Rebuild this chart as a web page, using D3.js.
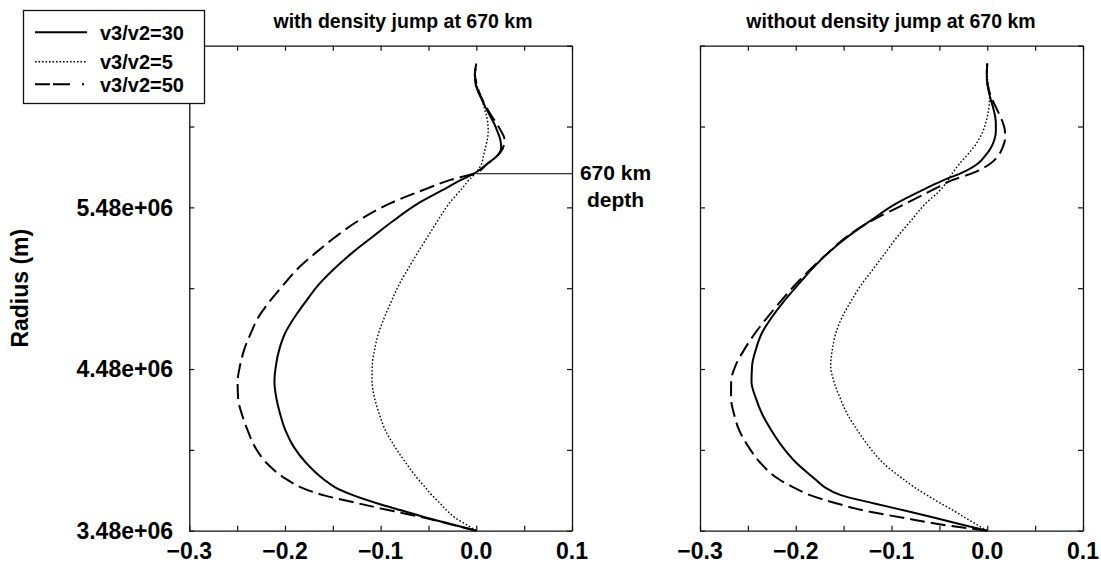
<!DOCTYPE html>
<html><head><meta charset="utf-8">
<script src="https://cdn.jsdelivr.net/npm/d3@7"></script>
<style>
html,body{margin:0;padding:0;background:#fff;}
svg{display:block;font-family:"Liberation Sans",Arial,Helvetica,sans-serif;font-weight:bold;}
</style></head><body>
<svg id="chart" width="1101" height="565"></svg>
<script>
// ---------------- data ----------------
const radius = [3.48e6,3.52e6,3.56e6,3.60e6,3.65e6,3.70e6,3.75e6,3.80e6,3.90e6,4.00e6,
  4.10e6,4.20e6,4.30e6,4.40e6,4.50e6,4.60e6,4.70e6,4.80e6,4.90e6,5.00e6,
  5.10e6,5.20e6,5.30e6,5.40e6,5.50e6,5.60e6,5.65e6,5.69e6,5.75e6,5.80e6,
  5.85e6,5.90e6,5.95e6,6.00e6,6.05e6,6.10e6,6.15e6,6.20e6,6.25e6,6.30e6,6.37e6];

// panel 1: with density jump at 670 km
const withJump30 = [0,-0.026,-0.052,-0.075,-0.104,-0.129,-0.148,-0.160,-0.178,-0.191,
  -0.1995,-0.205,-0.209,-0.211,-0.2095,-0.206,-0.200,-0.190,-0.178,-0.165,
  -0.1485,-0.1295,-0.108,-0.086,-0.062,-0.031,-0.016,-0.002,0.0115,0.022,
  0.026,0.025,0.022,0.0185,0.014,0.0095,0.0055,0.0015,-0.001,-0.0015,0];
const withJump5 = [0,-0.011,-0.022,-0.030,-0.038,-0.0465,-0.0536,-0.061,-0.0737,-0.0852,
  -0.095,-0.1013,-0.1063,-0.109,-0.1088,-0.1063,-0.1023,-0.096,-0.0887,-0.081,
  -0.0713,-0.0613,-0.0507,-0.0401,-0.029,-0.0145,-0.0075,-0.001,0.0055,0.0075,
  0.0095,0.0115,0.0124,0.012,0.0105,0.008,0.0055,0.0025,0,-0.001,0];
const withJump50 = [0,-0.027,-0.054,-0.086,-0.124,-0.160,-0.184,-0.199,-0.2195,-0.2315,
  -0.239,-0.245,-0.249,-0.2495,-0.247,-0.2426,-0.2358,-0.2278,-0.2158,-0.2017,
  -0.1868,-0.1677,-0.1467,-0.1226,-0.0919,-0.050,-0.027,-0.002,0.0115,0.022,
  0.028,0.0295,0.026,0.021,0.0155,0.0105,0.006,0.0025,0,-0.0015,0];

// panel 2: without density jump at 670 km
const withoutJump30 = [0,-0.028,-0.055,-0.083,-0.119,-0.153,-0.170,-0.180,-0.1995,-0.214,
  -0.2254,-0.235,-0.2417,-0.2462,-0.2456,-0.2417,-0.2356,-0.2250,-0.2122,-0.1977,
  -0.1829,-0.1659,-0.1453,-0.1214,-0.0962,-0.063,-0.045,-0.028,-0.010,-0.002,
  0.004,0.0075,0.009,0.009,0.008,0.006,0.0035,0.0015,0,-0.0005,0];
const withoutJump5 = [0,-0.0115,-0.023,-0.034,-0.049,-0.063,-0.0765,-0.088,-0.109,-0.1235,
  -0.1355,-0.146,-0.1536,-0.160,-0.1635,-0.1618,-0.1582,-0.1517,-0.1423,-0.1317,
  -0.1189,-0.1063,-0.0937,-0.0794,-0.065,-0.047,-0.041,-0.0365,-0.029,-0.0215,
  -0.0143,-0.0088,-0.0045,-0.0018,0.0004,0.0017,0.0024,0.002,0.0008,-0.0003,0];
const withoutJump50 = [0,-0.050,-0.088,-0.125,-0.158,-0.185,-0.203,-0.218,-0.237,-0.2495,
  -0.259,-0.2644,-0.2676,-0.2675,-0.263,-0.2538,-0.2427,-0.2296,-0.2156,-0.2008,
  -0.1841,-0.1660,-0.1466,-0.120,-0.0863,-0.053,-0.036,-0.016,0.003,0.0115,
  0.016,0.0185,0.0185,0.0165,0.013,0.009,0.005,0.002,0,-0.0005,0];

const seriesNames = ["v3/v2=30","v3/v2=5","v3/v2=50"];
const panelTitles = ["with density jump at 670 km","without density jump at 670 km"];
const xDomain = [-0.3, 0.1];
const yDomain = [3.48e6, 6.48e6];
const xTickValues = [-0.3,-0.25,-0.2,-0.15,-0.1,-0.05,0,0.05,0.1];
const xLabelValues = [-0.3,-0.2,-0.1,0.0,0.1];
const xLabelTexts = ["\u22120.3","\u22120.2","\u22120.1","0.0","0.1"];
const yTickValues = [3.48e6,3.98e6,4.48e6,4.98e6,5.48e6,5.98e6,6.48e6];
const yLabelValues = [3.48e6,4.48e6,5.48e6];
const yLabelTexts = ["3.48e+06","4.48e+06","5.48e+06"];
const yAxisTitle = "Radius (m)";
const depthLineRadius = 5.688e6;
const depthLabel = ["670 km","depth"];

// ---------------- drawing ----------------
const svg = d3.select("#chart");
const styles = [
  {w:2, dash:null},
  {w:1.4, dash:"1.6,2"},
  {w:2, dash:"15,6"}
];
const legendDash = [null, "1.6,1.9", "15,3,17,12,2,40"];

const yScale = d3.scaleLinear().domain(yDomain).range([530.7, 45.7]);
const panels = [
  {x0:189.3, x1:572, series:[withJump30, withJump5, withJump50], title:panelTitles[0], titleX:403, labels:true},
  {x0:700, x1:1083, series:[withoutJump30, withoutJump5, withoutJump50], title:panelTitles[1], titleX:891, labels:false}
];

const frameColor = "#111";
const tickLen = 5;

panels.forEach((p, pi) => {
  const xScale = d3.scaleLinear().domain(xDomain).range([p.x0, p.x1]);
  p.xScale = xScale;
  const g = svg.append("g");
  const yTop = yScale(yDomain[1]), yBot = yScale(yDomain[0]);

  const bottom = d3.axisBottom(xScale).tickValues(xTickValues).tickSizeInner(-tickLen).tickSizeOuter(0).tickFormat("");
  const top = d3.axisTop(xScale).tickValues(xTickValues).tickSizeInner(-tickLen).tickSizeOuter(0).tickFormat("");
  const left = d3.axisLeft(yScale).tickValues(yTickValues).tickSizeInner(-tickLen).tickSizeOuter(0).tickFormat("");
  const right = d3.axisRight(yScale).tickValues(yTickValues).tickSizeInner(-tickLen).tickSizeOuter(0).tickFormat("");
  [[bottom,`translate(0,${yBot})`],[top,`translate(0,${yTop})`],[left,`translate(${p.x0},0)`],[right,`translate(${p.x1},0)`]].forEach(([ax,tr]) => {
    const a = g.append("g").attr("transform", tr).call(ax);
    a.select(".domain").attr("stroke", frameColor).attr("stroke-width", 1.3);
    a.selectAll(".tick line").attr("stroke", frameColor).attr("stroke-width", 1.2);
  });

  g.selectAll("text.xl").data(xLabelValues).join("text")
    .attr("x", d => xScale(d)).attr("y", 559)
    .attr("text-anchor", "middle").attr("font-size", 23).attr("fill", "#000")
    .text((d,i) => xLabelTexts[i]);

  if (p.labels) {
    g.selectAll("text.yl").data(yLabelValues).join("text")
      .attr("x", 173).attr("y", d => yScale(d)).attr("dy", "0.36em")
      .attr("text-anchor", "end").attr("font-size", 23).attr("fill", "#000")
      .text((d,i) => yLabelTexts[i]);
  }

  g.append("text").attr("x", p.titleX).attr("y", 28).attr("text-anchor", "middle")
    .attr("font-size", 19.5).attr("fill", "#000").text(p.title);

  const line = d3.line().x(d => xScale(d[0])).y(d => yScale(d[1])).curve(d3.curveMonotoneY);
  p.series.forEach((vals, si) => {
    const pts = vals.map((v, i) => [v, radius[i]]);
    g.append("path").attr("d", line(pts)).attr("fill", "none")
      .attr("stroke", "#000").attr("stroke-width", styles[si].w)
      .attr("stroke-linejoin", "round")
      .attr("stroke-dasharray", styles[si].dash);
  });
});

// 670 km annotation
const xs0 = panels[0].xScale;
svg.append("line").attr("x1", xs0(0)).attr("x2", xs0(xDomain[1]))
  .attr("y1", yScale(depthLineRadius)).attr("y2", yScale(depthLineRadius))
  .attr("stroke", "#000").attr("stroke-width", 1);
svg.append("text").attr("x", 615.5).attr("y", 179.5).attr("text-anchor", "middle")
  .attr("font-size", 21).text(depthLabel[0]);
svg.append("text").attr("x", 615.5).attr("y", 206.5).attr("text-anchor", "middle")
  .attr("font-size", 21).text(depthLabel[1]);

// y axis title
svg.append("text").attr("transform", `translate(28,${yScale(4.98e6)}) rotate(-90)`)
  .attr("text-anchor", "middle").attr("font-size", 23).text(yAxisTitle);

// legend
const lg = svg.append("g");
lg.append("rect").attr("x", 23.5).attr("y", 10.5).attr("width", 181).attr("height", 93)
  .attr("fill", "#fff").attr("stroke", frameColor).attr("stroke-width", 1.3);
const legendY = [32.3, 61.7, 84.3];
seriesNames.forEach((name, i) => {
  lg.append("line").attr("x1", 35).attr("x2", 87).attr("y1", legendY[i]).attr("y2", legendY[i])
    .attr("stroke", "#000").attr("stroke-width", styles[i].w)
    .attr("stroke-dasharray", legendDash[i]);
  lg.append("text").attr("x", 100).attr("y", legendY[i]).attr("dy", "0.36em")
    .attr("font-size", 20).text(name);
});
</script>
</body></html>
